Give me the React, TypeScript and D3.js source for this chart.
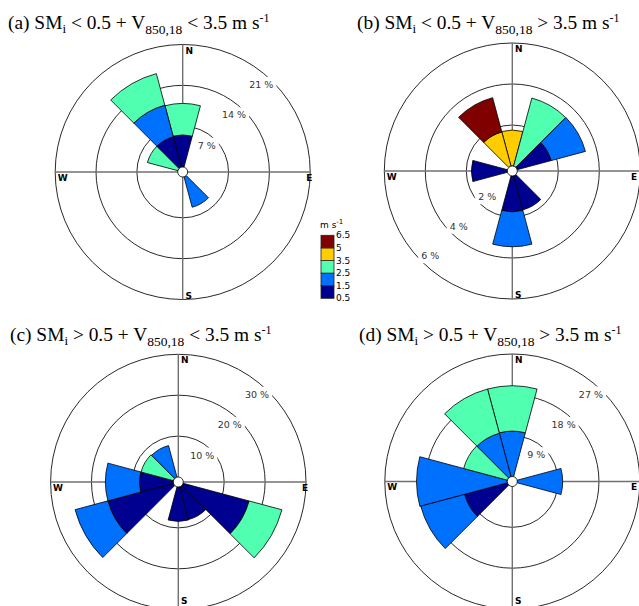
import React, { useEffect, useRef } from 'react';
import * as d3 from 'd3';

// wind directions (deg from north, clockwise), 30 deg sectors
const directions = [0, 30, 60, 90, 120, 150, 180, 210, 240, 270, 300, 330];
const speedLabels = ['0.5', '1.5', '2.5', '3.5', '5', '6.5'];
const binColors = ['#000090', '#0070ff', '#50ffb0', '#ffcc00', '#800000'];

// frequency (%) per speed bin, one value per direction
// (a) SMi < 0.5, V < 3.5
const aBin0 = [5.5, 0, 0, 0, 0, 0, 0, 0, 0, 0, 0, 5.4];
const aBin1 = [0, 0, 0, 0, 0, 5.4, 0, 0, 0, 0, 0, 5.6];
const aBin2 = [5.4, 0, 0, 0, 0, 0, 0, 0, 0, 0, 5.4, 5.6];
const aBin3 = [0, 0, 0, 0, 0, 0, 0, 0, 0, 0, 0, 0];
const aBin4 = [0, 0, 0, 0, 0, 0, 0, 0, 0, 0, 0, 0];
const aTicks = [7, 14, 21];

// (b) SMi < 0.5, V > 3.5
const bBin0 = [0, 0, 1.72, 0, 0, 1.72, 1.75, 0, 0, 1.75, 0, 0];
const bBin1 = [0, 0, 1.73, 0, 0, 0, 1.7, 0, 0, 0, 0, 0];
const bBin2 = [0, 3.44, 0, 0, 0, 0, 0, 0, 0, 0, 0, 0];
const bBin3 = [1.75, 0, 0, 0, 0, 0, 0, 0, 0, 0, 0, 1.73];
const bBin4 = [0, 0, 0, 0, 0, 0, 0, 0, 0, 0, 0, 1.73];
const bTicks = [2, 4, 6];

// (c) SMi > 0.5, V < 3.5
const cBin0 = [0, 0, 0, 0, 16.7, 8.3, 8.4, 0, 16.6, 8.3, 0, 0];
const cBin1 = [0, 0, 0, 0, 0, 0, 0, 0, 8.3, 8.3, 0, 8.0];
const cBin2 = [0, 0, 0, 0, 8.3, 0, 0, 0, 0, 0, 8.2, 0];
const cBin3 = [0, 0, 0, 0, 0, 0, 0, 0, 0, 0, 0, 0];
const cBin4 = [0, 0, 0, 0, 0, 0, 0, 0, 0, 0, 0, 0];
const cTicks = [10, 20, 30];

// (d) SMi > 0.5, V > 3.5
const dBin0 = [0, 0, 0, 0, 0, 0, 0, 0, 9.8, 0, 0, 0];
const dBin1 = [10, 0, 0, 10, 0, 0, 0, 0, 10, 20, 0, 9.9];
const dBin2 = [10, 0, 0, 0, 0, 0, 0, 0, 0, 0, 10, 10.1];
const dBin3 = [0, 0, 0, 0, 0, 0, 0, 0, 0, 0, 0, 0];
const dBin4 = [0, 0, 0, 0, 0, 0, 0, 0, 0, 0, 0, 0];
const dTicks = [9, 18, 27];

const panels = [
  { key: 'a', op1: '<', op2: '<', cx: 182.7, cy: 172, R: 127.5, ticks: aTicks, labelAngle: 42, bins: [aBin0, aBin1, aBin2, aBin3, aBin4], tx: 8, ty: 29 },
  { key: 'b', op1: '<', op2: '>', cx: 512.3, cy: 171, R: 128, ticks: bTicks, labelAngle: 224, bins: [bBin0, bBin1, bBin2, bBin3, bBin4], tx: 357, ty: 29 },
  { key: 'c', op1: '>', op2: '<', cx: 178.3, cy: 482, R: 127.7, ticks: cTicks, labelAngle: 42, bins: [cBin0, cBin1, cBin2, cBin3, cBin4], tx: 10, ty: 341 },
  { key: 'd', op1: '>', op2: '>', cx: 512.3, cy: 481.5, R: 127.5, ticks: dTicks, labelAngle: 42, bins: [dBin0, dBin1, dBin2, dBin3, dBin4], tx: 359, ty: 341 },
];

const W = 639;
const H = 606;
const serif = '"Liberation Serif", "Times New Roman", serif';
const sans = '"DejaVu Sans", sans-serif';

const App = () => {
  const svgRef = useRef<SVGSVGElement>(null);

  useEffect(() => {
    const svg = d3.select(svgRef.current);
    svg.selectAll('*').remove();

    const arc = d3.arc<any>();
    const rad = (deg: number) => (deg * Math.PI) / 180;

    panels.forEach((p) => {
      // title
      const t = svg.append('text')
        .attr('x', p.tx)
        .attr('y', p.ty)
        .attr('font-family', serif)
        .attr('font-size', 19.4)
        .attr('fill', '#000');
      t.append('tspan').text(`(${p.key}) SM`);
      t.append('tspan').attr('font-size', 13).attr('dy', 4).text('i');
      t.append('tspan').attr('dy', -4).text(` ${p.op1} 0.5 + V`);
      t.append('tspan').attr('font-size', 13.5).attr('dy', 5).text('850,18');
      t.append('tspan').attr('dy', -5).text(` ${p.op2} 3.5 m s`);
      t.append('tspan').attr('font-size', 12).attr('dy', -7).text('-1');

      const g = svg.append('g').attr('transform', `translate(${p.cx},${p.cy})`);
      const r = d3.scaleLinear().domain([0, p.ticks[p.ticks.length - 1]]).range([5, p.R]);

      // grid
      p.ticks.forEach((tk) => {
        g.append('circle')
          .attr('r', r(tk))
          .attr('fill', 'none')
          .attr('stroke', '#111')
          .attr('stroke-width', 0.9);
      });
      g.append('line').attr('x1', -p.R).attr('x2', p.R).attr('y1', 0).attr('y2', 0)
        .attr('stroke', '#707070').attr('stroke-width', 1.4);
      g.append('line').attr('x1', 0).attr('x2', 0).attr('y1', -p.R).attr('y2', p.R)
        .attr('stroke', '#707070').attr('stroke-width', 1.4);

      // stacked bars
      directions.forEach((dir, i) => {
        let base = 0;
        p.bins.forEach((vals, k) => {
          const v = vals[i];
          if (!v) return;
          g.append('path')
            .attr('d', arc({
              innerRadius: r(base),
              outerRadius: r(base + v),
              startAngle: rad(dir - 15),
              endAngle: rad(dir + 15),
            }))
            .attr('fill', binColors[k])
            .attr('stroke', '#000')
            .attr('stroke-width', 0.8);
          base += v;
        });
      });

      // radial labels
      p.ticks.forEach((tk) => {
        const rr = r(tk) - 10;
        const x = rr * Math.sin(rad(p.labelAngle));
        const y = -rr * Math.cos(rad(p.labelAngle));
        const lbl = g.append('g').attr('transform', `translate(${x},${y})`);
        const txt = lbl.append('text')
          .attr('text-anchor', 'middle')
          .attr('dy', '0.35em')
          .attr('font-family', sans)
          .attr('font-size', 9.5)
          .attr('fill', '#333')
          .text(`${tk} %`);
        const bb = (txt.node() as SVGTextElement).getBBox();
        lbl.insert('rect', 'text')
          .attr('x', bb.x - 3)
          .attr('y', bb.y - 2)
          .attr('width', bb.width + 6)
          .attr('height', bb.height + 4)
          .attr('fill', '#fff');
      });

      // centre hole
      g.append('circle').attr('r', 5).attr('fill', '#fff').attr('stroke', '#000').attr('stroke-width', 0.8);

      // compass letters (kept inside the page)
      const compass = [
        { s: 'N', x: 2.8, y: -p.R + 9 },
        { s: 'E', x: Math.min(p.R - 4, W - 8 - p.cx), y: 8.5 },
        { s: 'S', x: 2.8, y: Math.min(p.R - 1, H - 2 - p.cy) },
        { s: 'W', x: -p.R + 2.5, y: 8.5 },
      ];
      compass.forEach((c) => {
        g.append('text')
          .attr('x', c.x)
          .attr('y', c.y)
          .attr('font-family', sans)
          .attr('font-weight', 'bold')
          .attr('font-size', 9)
          .attr('fill', '#000')
          .text(c.s);
      });
    });

    // colour legend
    const lx = 321;
    const ly = d3.scaleLinear().domain([0, binColors.length]).range([298.3, 235.3]);
    const leg = svg.append('g');
    binColors.forEach((col, k) => {
      leg.append('rect')
        .attr('x', lx)
        .attr('y', ly(k + 1))
        .attr('width', 13)
        .attr('height', ly(k) - ly(k + 1))
        .attr('fill', col)
        .attr('stroke', '#222')
        .attr('stroke-width', 0.8);
    });
    speedLabels.forEach((s, k) => {
      leg.append('text')
        .attr('x', lx + 15)
        .attr('y', ly(k))
        .attr('dy', '0.35em')
        .attr('font-family', sans)
        .attr('font-size', 9)
        .attr('fill', '#000')
        .text(s);
    });
    const unit = leg.append('text')
      .attr('x', lx - 1)
      .attr('y', 228)
      .attr('font-family', sans)
      .attr('font-size', 9)
      .attr('fill', '#000');
    unit.append('tspan').text('m s');
    unit.append('tspan').attr('font-size', 7).attr('dy', -4).text('-1');
  }, []);

  return (
    <svg
      ref={svgRef}
      width={W}
      height={H}
      style={{ position: 'absolute', left: 0, top: 0, background: '#fff' }}
    />
  );
};

export default App;
